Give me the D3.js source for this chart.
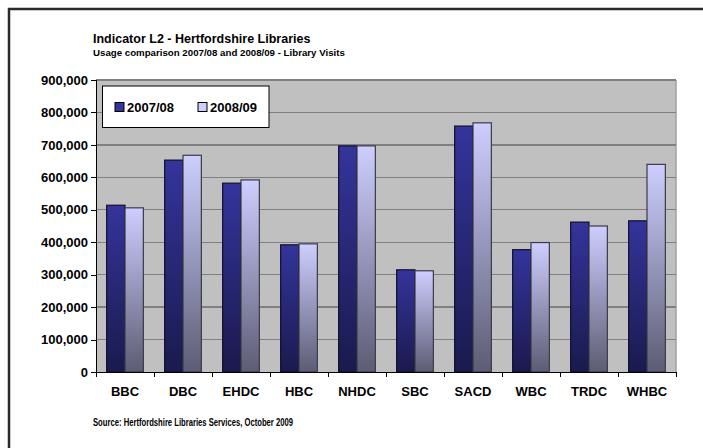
<!DOCTYPE html>
<html>
<head>
<meta charset="UTF-8">
<title>Indicator L2 - Hertfordshire Libraries</title>
<script src="https://cdn.jsdelivr.net/npm/d3@7"></script>
<style>
  html, body { margin:0; background:#fff; overflow:hidden; }
  svg { display:block; }
  svg text { font-family: "Liberation Sans", Arial, sans-serif; font-weight:bold; fill:#000; }
  .axis path, .axis line { stroke:#000; shape-rendering:crispEdges; }
  .axis text { font-size:13px; }
  .grid line { stroke:#808080; stroke-width:1.3; shape-rendering:crispEdges; }
</style>
</head>
<body>
<div id="grafico"></div>
<script>
// datos
var categorias = ["BBC","DBC","EHDC","HBC","NHDC","SBC","SACD","WBC","TRDC","WHBC"];
var series = ["2007/08","2008/09"];
var visitas0708 = [514000,653000,582000,392000,697000,315000,758000,377000,462000,466000];
var visitas0809 = [506000,668000,592000,395000,697000,312000,768000,399000,450000,640000];
var ticksY = [0,100000,200000,300000,400000,500000,600000,700000,800000,900000];

var w = 703, h = 448;
var izq = 96, der = 676, arriba = 80, abajo = 372;

var svg = d3.select("#grafico").append("svg")
    .attr("width", w).attr("height", h);

// degradados de las barras
var defs = svg.append("defs");
var colores = [["#34349c","#1a1a4e"],["#ceceff","#5c5c74"]];
colores.forEach(function(c, i){
    var g = defs.append("linearGradient").attr("id","grad"+i)
        .attr("x1",0).attr("y1",0).attr("x2",0).attr("y2",1);
    g.append("stop").attr("offset","0%").attr("stop-color",c[0]);
    g.append("stop").attr("offset","100%").attr("stop-color",c[1]);
});

// marco exterior: solo se ven el borde de arriba y el de la izquierda
svg.append("path")
    .attr("d","M9," + h + "V9H" + w)
    .attr("fill","none").attr("stroke","#2a2a2a").attr("stroke-width",2.5);

// títulos
svg.append("text").attr("x",93).attr("y",43).style("font-size","12.5px")
    .text("Indicator L2 - Hertfordshire Libraries");
svg.append("text").attr("x",93).attr("y",56).style("font-size","9.7px")
    .text("Usage comparison 2007/08 and 2008/09 - Library Visits");

// escalas
var xScale = d3.scaleBand().domain(categorias).range([izq, der]);
var xSub = d3.scaleBand().domain(series).range([0, xScale.bandwidth()])
    .paddingInner(0).paddingOuter(0.58);
var yScale = d3.scaleLinear().domain([0, 900000]).range([abajo, arriba]);

// fondo del área
svg.append("rect").attr("x",izq).attr("y",arriba)
    .attr("width",der-izq).attr("height",abajo-arriba)
    .attr("fill","#c0c0c0");
svg.append("line").attr("x1",der).attr("x2",der).attr("y1",arriba).attr("y2",abajo)
    .attr("stroke","#a0a0a0").attr("stroke-width",1.5);

// rejilla
svg.append("g").attr("class","grid")
    .selectAll("line").data(ticksY.slice(1)).enter().append("line")
    .attr("x1",izq).attr("x2",der)
    .attr("y1",function(d){ return yScale(d); })
    .attr("y2",function(d){ return yScale(d); });

// barras
var datos = categorias.map(function(c, i){
    return {cat:c, vals:[visitas0708[i], visitas0809[i]]};
});
var grupos = svg.selectAll(".grupo").data(datos).enter().append("g")
    .attr("transform", function(d){ return "translate(" + xScale(d.cat) + ",0)"; });
grupos.selectAll("rect").data(function(d){ return d.vals; }).enter().append("rect")
    .attr("x", function(d,i){ return xSub(series[i]); })
    .attr("y", function(d){ return yScale(d); })
    .attr("width", xSub.bandwidth())
    .attr("height", function(d){ return abajo - yScale(d); })
    .attr("fill", function(d,i){ return "url(#grad"+i+")"; })
    .attr("stroke", function(d,i){ return i==0 ? "#10102a" : "#3a3a4a"; })
    .attr("stroke-width", 1.2);

// ejes
var ejeY = svg.append("g").attr("class","axis")
    .attr("transform","translate(" + izq + ",0)")
    .call(d3.axisLeft(yScale).tickValues(ticksY).tickSize(5).tickPadding(3)
        .tickFormat(d3.format(",")));
ejeY.select(".domain").attr("d","M0," + arriba + "V" + abajo);

var ejeX = svg.append("g").attr("class","axis")
    .attr("transform","translate(0," + abajo + ")");
ejeX.append("line").attr("x1",izq).attr("x2",der).attr("y1",0).attr("y2",0);
ejeX.selectAll(".tk").data(d3.range(categorias.length + 1)).enter().append("line")
    .attr("x1", function(i){ return izq + i * xScale.bandwidth(); })
    .attr("x2", function(i){ return izq + i * xScale.bandwidth(); })
    .attr("y1",0).attr("y2",5);
ejeX.selectAll("text").data(categorias).enter().append("text")
    .attr("x", function(d){ return xScale(d) + xScale.bandwidth()/2; })
    .attr("y", 24).attr("text-anchor","middle")
    .text(function(d){ return d; });

// leyenda
var ley = svg.append("g");
ley.append("rect").attr("x",102.5).attr("y",86).attr("width",166.5).attr("height",41.5)
    .attr("fill","#fff").attr("stroke","#000").attr("stroke-width",1);
var itemX = [115, 198];
series.forEach(function(s, i){
    ley.append("rect").attr("x",itemX[i]).attr("y",102.5).attr("width",9).attr("height",9)
        .attr("fill", colores[i][0]).attr("stroke","#000").attr("stroke-width",1);
    ley.append("text").attr("x",itemX[i] + 12).attr("y",111.5)
        .style("font-size","13px").text(s);
});

// fuente (letra estrecha como en el original)
svg.append("text").attr("x",93).attr("y",426)
    .style("font-size","10.5px")
    .attr("textLength",200).attr("lengthAdjust","spacingAndGlyphs")
    .text("Source: Hertfordshire Libraries Services, October 2009");
</script>
</body>
</html>
